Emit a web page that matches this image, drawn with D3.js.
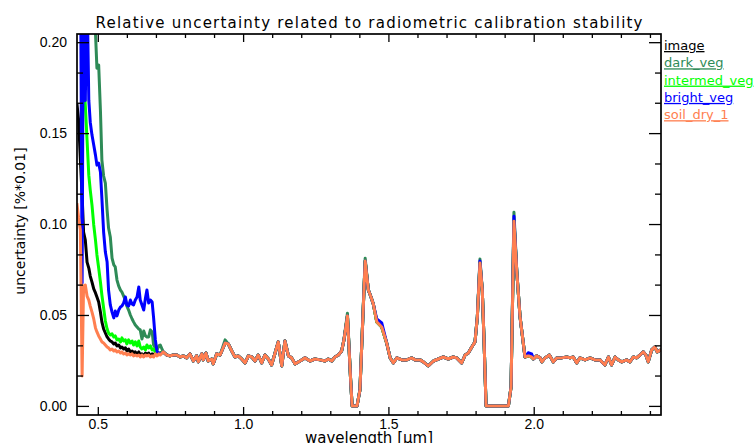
<!DOCTYPE html>
<meta charset="utf-8">
<style>
body { margin: 0; background: #fff; }
svg { display: block; font-family: "DejaVu Sans", sans-serif; }
.axis line { stroke: #000; stroke-width: 1.3; }
.axis text { font-size: 14px; fill: #000; }
.frame { fill: none; stroke: #000; stroke-width: 1.7; }
.series { fill: none; stroke-width: 3; stroke-linejoin: round; }
.legend text { font-size: 13px; text-decoration: underline; }
</style>
<body>
<script src="https://d3js.org/d3.v7.min.js"></script>
<script>

// wavelengths [um] of the blue/visible part where the five curves differ
const wlVis = [0.428, 0.434, 0.440, 0.446, 0.451, 0.457, 0.463, 0.469, 0.474, 0.480,
               0.486, 0.492, 0.497, 0.503, 0.509, 0.514, 0.520, 0.526, 0.532, 0.537,
               0.543, 0.549, 0.555, 0.560, 0.566, 0.572, 0.578, 0.583, 0.589, 0.595,
               0.600, 0.606, 0.612, 0.618, 0.623, 0.629, 0.635, 0.641, 0.646, 0.652,
               0.658, 0.664, 0.669, 0.675, 0.681, 0.687, 0.692, 0.698, 0.704, 0.710,
               0.715];

const image = [0.1665, 0.1571, 0.1352, 0.1159, 0.0956, 0.0912, 0.0791, 0.0758, 0.0714, 0.0681,
               0.0643, 0.0621, 0.0599, 0.0571, 0.0516, 0.0462, 0.0423, 0.0401, 0.0379, 0.0368,
               0.0357, 0.0352, 0.0341, 0.0346, 0.0330, 0.0335, 0.0319, 0.0324, 0.0313, 0.0319,
               0.0302, 0.0313, 0.0297, 0.0302, 0.0291, 0.0297, 0.0286, 0.0297, 0.0280, 0.0286,
               0.0275, 0.0291, 0.0280, 0.0291, 0.0275, 0.0286, 0.0280, 0.0291, 0.0280, 0.0286,
               0.0291];

const darkVeg = [0.36, 0.35, 0.34, 0.33, 0.32, 0.30, 0.29, 0.27, 0.26, 0.245,
                 0.225, 0.205, 0.1857, 0.1874, 0.1626, 0.1352, 0.1264, 0.1225, 0.1077, 0.0978,
                 0.0929, 0.0813, 0.0775, 0.0764, 0.0692, 0.0659, 0.0637, 0.0626, 0.0604, 0.0582,
                 0.0549, 0.0527, 0.0500, 0.0478, 0.0462, 0.0445, 0.0434, 0.0423, 0.0418, 0.0368,
                 0.0412, 0.0385, 0.0379, 0.0379, 0.0418, 0.0407, 0.0335, 0.0319, 0.0308, 0.0330,
                 0.0335];

const intermedVeg = [0.24, 0.23, 0.22, 0.20, 0.18, 0.1654, 0.1462, 0.1269, 0.1187, 0.1104,
                     0.0995, 0.0912, 0.0830, 0.0758, 0.0681, 0.0610, 0.0538, 0.0467, 0.0423, 0.0401,
                     0.0390, 0.0396, 0.0379, 0.0385, 0.0363, 0.0368, 0.0352, 0.0374, 0.0357, 0.0363,
                     0.0341, 0.0363, 0.0346, 0.0357, 0.0335, 0.0352, 0.0330, 0.0357, 0.0324, 0.0313,
                     0.0324, 0.0308, 0.0335, 0.0319, 0.0330, 0.0308, 0.0313, 0.0297, 0.0297, 0.0286,
                     0.0291];

const brightVeg = [0.26, 0.28, 0.26, 0.0676, 0.26, 0.168, 0.23, 0.1681, 0.1560, 0.1489,
                   0.1434, 0.1379, 0.1324, 0.1335, 0.1286, 0.1143, 0.0956, 0.0846, 0.0791, 0.0637,
                   0.0555, 0.0516, 0.0484, 0.0522, 0.0495, 0.0527, 0.0544, 0.0549, 0.0566, 0.0599,
                   0.0555, 0.0549, 0.0582, 0.0560, 0.0555, 0.0582, 0.0599, 0.0654, 0.0582, 0.0555,
                   0.0527, 0.0593, 0.0637, 0.0566, 0.0582, 0.0571, 0.0484, 0.0363, 0.0297, 0.0291,
                   0.0286];

const soilDry1 = [0.1115, 0.1033, 0.0967, 0.0165, 0.0659, 0.0665, 0.0604, 0.0582, 0.0549, 0.0516,
                  0.0478, 0.0429, 0.0407, 0.0385, 0.0368, 0.0352, 0.0346, 0.0335, 0.0324, 0.0319,
                  0.0308, 0.0313, 0.0302, 0.0308, 0.0297, 0.0302, 0.0291, 0.0297, 0.0286, 0.0291,
                  0.0280, 0.0286, 0.0280, 0.0286, 0.0275, 0.0280, 0.0275, 0.0280, 0.0269, 0.0280,
                  0.0269, 0.0280, 0.0275, 0.0280, 0.0269, 0.0275, 0.0269, 0.0286, 0.0275, 0.0286,
                  0.0280];

// NIR/SWIR part: all five curves lie on top of each other here
const wlTail = [0.725, 0.737, 0.748, 0.760, 0.772, 0.783, 0.794, 0.806, 0.817, 0.829,
                0.840, 0.846, 0.858, 0.863, 0.872, 0.880, 0.892, 0.897, 0.909, 0.921,
                0.938, 0.949, 0.961, 0.972, 0.983, 0.995, 1.007, 1.018, 1.030, 1.041,
                1.052, 1.064, 1.075, 1.087, 1.098, 1.110, 1.121, 1.133, 1.144, 1.156,
                1.167, 1.179, 1.196, 1.213, 1.230, 1.247, 1.265, 1.282, 1.293, 1.305,
                1.316, 1.328, 1.339, 1.347, 1.359, 1.370, 1.375, 1.392, 1.402, 1.420,
                1.431, 1.440, 1.448, 1.460, 1.477, 1.494, 1.506, 1.517, 1.529, 1.546,
                1.563, 1.580, 1.592, 1.609, 1.620, 1.637, 1.655, 1.672, 1.689, 1.706,
                1.723, 1.735, 1.752, 1.764, 1.775, 1.787, 1.798, 1.806, 1.815, 1.823,
                1.829, 1.836, 1.913, 1.922, 1.932, 1.942, 1.953, 1.970, 1.981, 1.993,
                1.999, 2.010, 2.022, 2.028, 2.039, 2.054, 2.067, 2.079, 2.096, 2.114,
                2.125, 2.136, 2.148, 2.159, 2.177, 2.194, 2.211, 2.228, 2.245, 2.257,
                2.268, 2.280, 2.291, 2.303, 2.320, 2.331, 2.343, 2.354, 2.366, 2.377,
                2.386, 2.394, 2.406, 2.417, 2.425, 2.438];

const tailShared = [0.0297, 0.0280, 0.0275, 0.0280, 0.0280, 0.0269, 0.0275, 0.0264, 0.0286, 0.0247,
                    0.0275, 0.0242, 0.0286, 0.0253, 0.0291, 0.0247, 0.0258, 0.0231, 0.0286, 0.0280,
                    0.0346, 0.0341, 0.0302, 0.0269, 0.0275, 0.0258, 0.0236, 0.0275, 0.0269, 0.0247,
                    0.0280, 0.0236, 0.0280, 0.0258, 0.0225, 0.0291, 0.0352, 0.0220, 0.0357, 0.0275,
                    0.0264, 0.0231, 0.0247, 0.0264, 0.0247, 0.0258, 0.0253, 0.0247, 0.0258, 0.0247,
                    0.0269, 0.0280, 0.0302, 0.0363, 0.0495, 0.0143, 0.0, 0.0, 0.0088, 0.0797,
                    0.0637, 0.0599, 0.0560, 0.0462, 0.0434, 0.0346, 0.0264, 0.0236, 0.0264, 0.0253,
                    0.0253, 0.0264, 0.0253, 0.0253, 0.0242, 0.0220, 0.0247, 0.0258, 0.0269, 0.0258,
                    0.0269, 0.0264, 0.0236, 0.0280, 0.0291, 0.0324, 0.0352, 0.0489, 0.0786, 0.0637,
                    0.0363, 0.0, 0.0, 0.0104, 0.1016, 0.0731, 0.0489, 0.0269, 0.0275, 0.0269,
                    0.0258, 0.0275, 0.0264, 0.0242, 0.0264, 0.0280, 0.0242, 0.0264, 0.0264, 0.0269,
                    0.0264, 0.0269, 0.0236, 0.0264, 0.0253, 0.0264, 0.0253, 0.0253, 0.0225, 0.0269,
                    0.0225, 0.0269, 0.0253, 0.0242, 0.0253, 0.0242, 0.0269, 0.0264, 0.0280, 0.0297,
                    0.0280, 0.0242, 0.0308, 0.0324, 0.0297, 0.0308];

// places where a curve pokes out from under the shared tail
const darkVegTail = [[0.938, 0.0363], [1.359, 0.0510], [1.420, 0.0812], [1.815, 0.0808], [1.932, 0.1065]];
const brightVegTail = [[1.460, 0.0478], [1.477, 0.0456], [1.815, 0.0797], [1.932, 0.1043], [1.981, 0.0292], [1.993, 0.0286]];

const names = ["image", "dark_veg", "intermed_veg", "bright_veg", "soil_dry_1"];
const colors = ["#000000", "#2e8b57", "#00ff00", "#0000ff", "#ff7f50"];

const xMajor = [0.5, 1.0, 1.5, 2.0];
const xMinor = [0.6, 0.7, 0.8, 0.9, 1.1, 1.2, 1.3, 1.4, 1.6, 1.7, 1.8, 1.9, 2.1, 2.2, 2.3, 2.4];
const yMajor = [0.00, 0.05, 0.10, 0.15, 0.20];
const yMinor = [0.0167, 0.0333, 0.0667, 0.0833, 0.1167, 0.1333, 0.1667, 0.1833];

var margin = {top: 34, left: 77},
    width = 584,
    height = 381;

var x = d3.scaleLinear().domain([0.4284, 2.438]).range([0, width]);
var y = d3.scaleLinear().domain([-0.005, 0.2045]).range([height, 0]);

var svg = d3.select("body").append("svg")
    .attr("width", 756)
    .attr("height", 443);

svg.append("text")
    .attr("x", margin.left + width / 2)
    .attr("y", 28)
    .attr("text-anchor", "middle")
    .attr("font-size", "15px")
    .attr("textLength", 547)
    .attr("lengthAdjust", "spacing")
    .text("Relative uncertainty related to radiometric calibration stability");

var g = svg.append("g")
    .attr("transform", "translate(" + margin.left + "," + margin.top + ")");

g.append("clipPath").attr("id", "plotclip")
  .append("rect").attr("width", width).attr("height", height);

// build the five series
var visSets = [image, darkVeg, intermedVeg, brightVeg, soilDry1];
var tailSets = [[], darkVegTail, [], brightVegTail, []];

var series = names.map(function(name, k) {
  var over = new Map(tailSets[k]);
  var pts = wlVis.map(function(w, i) { return {w: w, v: visSets[k][i]}; })
    .concat(wlTail.map(function(w, i) {
      return {w: w, v: over.has(w) ? over.get(w) : tailShared[i]};
    }));
  return {name: name, color: colors[k], values: pts};
});

var line = d3.line()
    .x(function(d) { return x(d.w); })
    .y(function(d) { return y(d.v); });

g.append("g").attr("clip-path", "url(#plotclip)")
  .selectAll("path")
  .data(series)
  .enter().append("path")
    .attr("class", "series")
    .attr("stroke", function(d) { return d.color; })
    .attr("d", function(d) { return line(d.values); });

// axes, ticks pointing inwards on all four sides
function noDomain(sel) { sel.select(".domain").remove(); }

g.append("g").attr("class", "axis")
    .attr("transform", "translate(0," + height + ")")
    .call(d3.axisBottom(x).tickValues(xMajor).tickSizeInner(-8).tickSizeOuter(0)
      .tickPadding(4).tickFormat(d3.format(".1f")))
    .call(noDomain);
g.append("g").attr("class", "axis")
    .attr("transform", "translate(0," + height + ")")
    .call(d3.axisBottom(x).tickValues(xMinor).tickSize(-4).tickFormat(""))
    .call(noDomain);
g.append("g").attr("class", "axis")
    .call(d3.axisTop(x).tickValues(xMajor).tickSize(-8).tickFormat(""))
    .call(noDomain);
g.append("g").attr("class", "axis")
    .call(d3.axisTop(x).tickValues(xMinor).tickSize(-4).tickFormat(""))
    .call(noDomain);

g.append("g").attr("class", "axis")
    .call(d3.axisLeft(y).tickValues(yMajor).tickSizeInner(-12).tickSizeOuter(0)
      .tickPadding(10).tickFormat(d3.format(".2f")))
    .call(noDomain);
g.append("g").attr("class", "axis")
    .call(d3.axisLeft(y).tickValues(yMinor).tickSize(-6).tickFormat(""))
    .call(noDomain);
g.append("g").attr("class", "axis")
    .attr("transform", "translate(" + width + ",0)")
    .call(d3.axisRight(y).tickValues(yMajor).tickSize(-12).tickFormat(""))
    .call(noDomain);
g.append("g").attr("class", "axis")
    .attr("transform", "translate(" + width + ",0)")
    .call(d3.axisRight(y).tickValues(yMinor).tickSize(-6).tickFormat(""))
    .call(noDomain);

g.append("rect")
    .attr("class", "frame")
    .attr("width", width)
    .attr("height", height);

// axis titles
svg.append("text")
    .attr("x", margin.left + width / 2)
    .attr("y", 443)
    .attr("text-anchor", "middle")
    .attr("font-size", "15px")
    .text("wavelength [\u03bcm]");

svg.append("text")
    .attr("transform", "translate(25," + (margin.top + 187) + ") rotate(-90)")
    .attr("text-anchor", "middle")
    .attr("font-size", "14px")
    .text("uncertainty [%*0.01]");

// legend to the right of the frame
var legend = svg.append("g").attr("class", "legend")
  .selectAll("text")
  .data(series)
  .enter().append("text")
    .attr("x", 664)
    .attr("y", function(d, i) { return 50 + i * 17.3; })
    .attr("fill", function(d) { return d.color; })
    .text(function(d) { return d.name; });

</script>
